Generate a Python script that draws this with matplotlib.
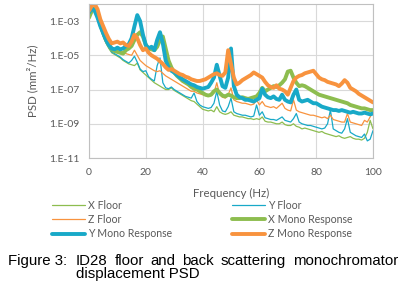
import numpy as np
import matplotlib
matplotlib.use('Agg')
import matplotlib.pyplot as plt
from matplotlib.ticker import NullLocator

# frequency axis (Hz), 1 Hz steps
freq = np.arange(0, 101)

# log10 of PSD (mm^2/Hz), one value per Hz
x_floor_exp = [-2.8, -2.4, -2.35, -2.9, -3.4, -3.9, -4.3, -4.6, -4.85, -4.95,
               -5.05, -5.15, -5.3, -5.4, -5.5, -5.55, -5.6, -5.45, -5.85, -6.0,
               -6.15, -6.3, -6.45, -6.6, -6.7, -6.8, -6.9, -7.0, -7.0, -6.9,
               -7.05, -7.15, -7.25, -7.35, -7.45, -7.55, -7.65, -7.7, -7.85, -8.0,
               -8.15, -8.2, -8.25, -8.2, -8.3, -8.0, -8.3, -8.4, -8.45, -8.4,
               -8.3, -8.5, -8.55, -8.6, -8.6, -8.65, -8.7, -8.7, -8.75, -8.7,
               -8.75, -8.6, -8.85, -8.9, -8.9, -8.95, -9.0, -9.0, -8.9, -9.05,
               -9.1, -9.1, -9.0, -9.15, -9.2, -9.3, -9.25, -9.3, -9.35, -9.4,
               -9.45, -9.5, -9.45, -9.55, -9.6, -9.65, -9.7, -9.75, -9.7, -9.8,
               -9.85, -9.8, -9.75, -9.85, -9.9, -9.9, -9.95, -9.85, -9.5, -8.8,
               -9.3]
y_floor_exp = [-2.7, -2.3, -2.35, -2.9, -3.4, -3.85, -4.25, -4.55, -4.8, -4.9,
               -5.0, -5.1, -5.25, -5.35, -5.45, -5.3, -5.05, -5.4, -5.8, -5.95,
               -5.9, -6.25, -6.4, -6.5, -5.6, -5.15, -6.6, -6.9, -6.95, -6.85,
               -7.0, -7.1, -7.2, -7.3, -7.4, -7.45, -7.5, -7.2, -7.7, -7.9,
               -8.0, -8.05, -8.1, -8.05, -7.8, -7.1, -7.9, -8.25, -8.3, -8.0,
               -7.5, -8.3, -8.4, -8.45, -8.5, -8.5, -8.55, -8.6, -8.55, -7.9,
               -8.5, -8.3, -8.65, -8.7, -8.75, -8.75, -8.8, -8.7, -8.6, -8.8,
               -8.85, -8.9, -8.7, -8.4, -8.9, -9.0, -9.05, -9.1, -9.1, -9.15,
               -9.2, -9.25, -9.3, -9.25, -9.0, -8.2, -9.3, -9.4, -9.5, -9.55,
               -9.3, -8.7, -9.5, -9.6, -9.7, -9.75, -9.8, -9.6, -10.0, -9.9,
               -9.4]
z_floor_exp = [-2.6, -2.2, -2.2, -2.7, -3.2, -3.6, -4.0, -4.3, -4.5, -4.6,
               -4.65, -4.7, -4.8, -4.9, -4.95, -5.0, -4.7, -5.0, -5.3, -5.45,
               -5.6, -5.7, -5.8, -5.9, -5.95, -5.9, -6.05, -6.2, -6.3, -6.4,
               -6.5, -6.6, -6.7, -6.8, -6.9, -7.0, -7.1, -7.1, -7.2, -7.25,
               -7.3, -7.35, -7.4, -7.35, -7.2, -6.6, -7.3, -7.45, -7.5, -7.3,
               -6.9, -7.6, -7.7, -7.75, -7.8, -7.8, -7.85, -7.9, -7.85, -7.6,
               -7.9, -7.7, -7.95, -8.0, -8.05, -8.0, -8.1, -7.95, -7.8, -8.1,
               -8.2, -8.25, -7.6, -8.2, -8.3, -8.35, -8.4, -8.45, -8.5, -8.5,
               -8.55, -8.6, -8.65, -8.6, -8.7, -8.5, -8.75, -8.8, -8.85, -8.9,
               -8.9, -8.4, -8.9, -8.95, -9.0, -9.05, -9.1, -8.8, -8.9, -8.6,
               -8.3]
x_mono_exp = [-2.8, -2.4, -2.3, -2.5, -3.2, -3.7, -4.1, -4.4, -4.65, -4.75,
              -4.8, -4.85, -4.9, -4.7, -4.6, -4.45, -4.1, -3.8, -3.65, -3.9,
              -4.4, -4.6, -4.65, -4.7, -4.5, -4.1, -3.9, -4.6, -5.3, -5.7,
              -6.0, -6.2, -6.35, -6.5, -6.6, -6.7, -6.85, -6.95, -7.0, -7.1,
              -7.2, -7.3, -7.35, -7.3, -7.1, -7.0, -7.2, -7.35, -7.4, -7.3,
              -7.35, -7.45, -7.5, -7.5, -7.45, -7.5, -7.55, -7.5, -7.45, -7.4,
              -7.2, -6.9, -7.1, -7.0, -6.9, -6.8, -6.85, -6.75, -6.6, -6.4,
              -5.95, -5.9, -6.3, -6.6, -6.8, -6.75, -6.8, -6.9, -7.0, -7.1,
              -7.2, -7.3, -7.35, -7.4, -7.45, -7.5, -7.55, -7.6, -7.65, -7.7,
              -7.75, -7.8, -7.9, -7.95, -8.0, -8.05, -8.1, -8.1, -8.15, -8.2,
              -8.2]
y_mono_exp = [-2.5, -2.25, -2.4, -2.8, -3.3, -3.7, -4.1, -4.4, -4.6, -4.65,
              -4.55, -4.65, -4.6, -4.45, -4.35, -4.0, -3.3, -2.65, -3.0, -3.8,
              -4.4, -4.6, -4.5, -4.7, -4.1, -3.65, -4.3, -5.3, -5.7, -5.9,
              -6.0, -6.15, -6.3, -6.4, -6.5, -6.6, -6.7, -6.75, -6.85, -6.9,
              -6.95, -6.9, -6.85, -6.6, -6.3, -5.55, -6.2, -6.8, -6.9, -6.3,
              -4.6, -6.8, -7.3, -7.45, -7.5, -7.6, -7.6, -7.65, -7.7, -7.6,
              -7.5, -6.95, -7.3, -7.45, -7.5, -7.4, -7.55, -7.6, -7.3, -7.6,
              -7.7, -7.75, -7.3, -7.0, -7.6, -7.7, -7.65, -7.6, -7.7, -7.8,
              -7.8, -7.9, -8.0, -8.05, -8.1, -8.15, -8.2, -8.2, -8.25, -8.2,
              -8.25, -8.3, -8.35, -8.3, -8.35, -8.4, -8.4, -8.35, -8.4, -8.45,
              -8.4]
z_mono_exp = [-2.4, -2.1, -2.0, -2.3, -2.9, -3.3, -3.7, -4.05, -4.3, -4.25,
              -4.2, -4.3, -4.25, -4.4, -4.45, -4.2, -3.8, -4.0, -4.4, -4.7,
              -4.6, -4.85, -5.0, -5.1, -5.2, -5.35, -5.5, -5.7, -5.85, -5.8,
              -5.9, -6.0, -6.1, -6.15, -6.25, -6.3, -6.4, -6.45, -6.5, -6.5,
              -6.45, -6.4, -6.3, -6.2, -6.1, -6.05, -6.15, -6.2, -6.0, -4.7,
              -5.5, -6.3, -6.7, -6.6, -6.45, -6.35, -6.25, -6.15, -6.0, -6.1,
              -6.2, -6.3, -6.55, -6.75, -6.85, -6.9, -6.75, -6.95, -7.0, -7.1,
              -7.3, -6.9, -6.5, -6.3, -6.2, -6.15, -6.05, -6.0, -5.95, -5.9,
              -6.1, -6.3, -6.4, -6.45, -6.55, -6.6, -6.65, -6.7, -6.8, -6.65,
              -6.45, -6.6, -6.9, -7.0, -7.1, -7.25, -7.35, -7.45, -7.55, -7.65,
              -7.75]

series_names = ["X Floor", "Y Floor", "Z Floor",
                "X Mono Response", "Y Mono Response", "Z Mono Response"]
x_ticks = [0, 20, 40, 60, 80, 100]
y_ticks = [1e-11, 1e-9, 1e-7, 1e-5, 1e-3]
y_tick_labels = ["1.E-11", "1.E-09", "1.E-07", "1.E-05", "1.E-03"]
caption_line1 = ["ID28", "floor", "and", "back", "scattering", "monochromator"]

GREEN = "#8DBD4F"
CYAN = "#18A9C8"
ORANGE = "#F8933E"
TXT = "#595959"
FONT = "Lato"

W, H = 402, 282
fig = plt.figure(figsize=(W / 100, H / 100), dpi=100)
L, R, T, B = 89, 373, 4, 158
ax = fig.add_axes([L / W, 1 - B / H, (R - L) / W, (B - T) / H])

series = [(x_floor_exp, GREEN, 0.9), (y_floor_exp, CYAN, 0.9),
          (z_floor_exp, ORANGE, 0.9), (x_mono_exp, GREEN, 2.8),
          (y_mono_exp, CYAN, 2.8), (z_mono_exp, ORANGE, 2.8)]
handles = []
for (vals, col, lw), name in zip(series, series_names):
    ln, = ax.plot(freq, 10.0 ** np.array(vals), color=col, lw=lw,
                  solid_capstyle='round', solid_joinstyle='round', label=name)
    handles.append(ln)

ax.set_yscale('log')
ax.set_xlim(0, 100)
ax.set_ylim(1e-11, 1e-2)
ax.set_xticks(x_ticks)
ax.set_xticklabels([str(v) for v in x_ticks])
ax.set_yticks(y_ticks)
ax.set_yticklabels(y_tick_labels)
ax.yaxis.set_minor_locator(NullLocator())
ax.grid(True, color="#D9D9D9", lw=0.8)
ax.set_axisbelow(True)
for s in ax.spines.values():
    s.set_color("#C0C0C0")
    s.set_linewidth(0.8)
ax.tick_params(length=0, labelsize=7.5, labelcolor=TXT, pad=7)
for lab in ax.get_xticklabels() + ax.get_yticklabels():
    lab.set_fontfamily(FONT)

fig.text(231 / W, 1 - 193 / H, "Frequency (Hz)", ha='center', va='center',
         fontsize=8.3, color=TXT, family=FONT)
fig.text(32 / W, 1 - 81 / H, "PSD (mm²/Hz)", ha='center', va='center',
         rotation=90, fontsize=8.3, color=TXT, family=FONT)

leg_kw = dict(loc='upper left', frameon=False, borderpad=0, borderaxespad=0,
              handlelength=3.1, handletextpad=0.35, labelspacing=0.3,
              prop={'family': FONT, 'size': 7.6}, labelcolor=TXT)
fig.legend([handles[0], handles[2], handles[4]],
           [series_names[0], series_names[2], series_names[4]],
           bbox_to_anchor=(52 / W, 1 - 200 / H), **leg_kw)
fig.legend([handles[1], handles[3], handles[5]],
           [series_names[1], series_names[3], series_names[5]],
           bbox_to_anchor=(232 / W, 1 - 200 / H), **leg_kw)

# caption: justified first line, hanging indent
cap_kw = dict(fontsize=10.8, family="Liberation Sans", color="black", va='baseline')
base1 = 1 - 265 / H
fig.text(8 / W, base1, "Figure 3:", ha='left', **cap_kw)
fig.canvas.draw()
rend = fig.canvas.get_renderer()
tmp = [fig.text(0, 0, w, **cap_kw) for w in caption_line1]
widths = [t.get_window_extent(rend).width for t in tmp]
for t in tmp:
    t.remove()
x_start, x_end = 76.0, 398.0
gap = (x_end - x_start - sum(widths)) / (len(caption_line1) - 1)
xp = x_start
for w, wd in zip(caption_line1, widths):
    fig.text(xp / W, base1, w, ha='left', **cap_kw)
    xp += wd + gap
fig.text(76 / W, 1 - 278 / H, "displacement PSD", ha='left', **cap_kw)

fig.savefig("out.png", dpi=100)
